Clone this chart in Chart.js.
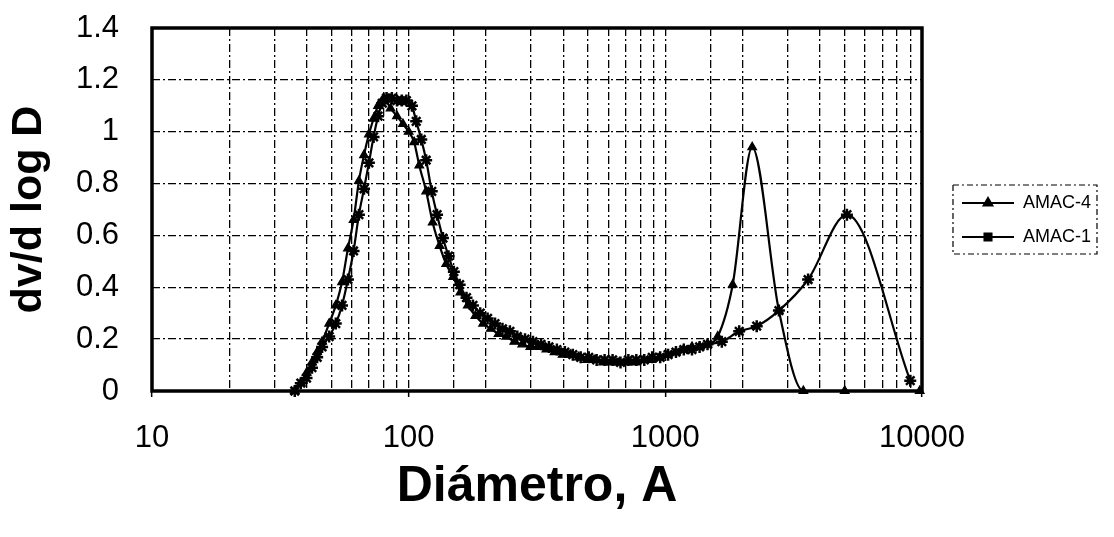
<!DOCTYPE html>
<html>
<head>
<meta charset="utf-8">
<title>dv/d log D vs Diámetro</title>
<script src="https://cdn.jsdelivr.net/npm/chart.js@4.4.1/dist/chart.umd.min.js"></script>
<style>
  html, body { margin: 0; padding: 0; background: #ffffff; }
  #wrap { width: 1114px; height: 537px; }
</style>
</head>
<body>
<div id="wrap"><canvas id="c" width="1114" height="537"></canvas></div>
<script>
// Pore size distribution, dv/d log D against pore diameter (Å)
const seriesNames = ['AMAC-4', 'AMAC-1'];

const diamAmac4 = [36, 38, 40, 42, 44, 46, 49, 52, 55, 58, 61, 64, 67, 70, 73, 76, 80, 85, 90, 95,
  100, 105, 110, 117, 124, 132, 140, 149, 159, 170, 182, 195, 209, 224, 240, 258, 277, 298, 320, 344,
  370, 398, 428, 460, 495, 532, 572, 615, 661, 711, 764, 822, 884, 950, 1020, 1100, 1180, 1270, 1360, 1460,
  1600, 1830, 2180, 2770, 3450, 5000, 9800];
const dvAmac4 = [0.00, 0.03, 0.07, 0.11, 0.15, 0.19, 0.26, 0.33, 0.42, 0.55, 0.66, 0.81, 0.91, 0.99, 1.05, 1.10, 1.13, 1.09, 1.06, 1.03,
  1.00, 0.96, 0.87, 0.77, 0.65, 0.56, 0.49, 0.44, 0.38, 0.33, 0.29, 0.26, 0.24, 0.22, 0.21, 0.19, 0.18, 0.17, 0.17, 0.16,
  0.15, 0.14, 0.14, 0.13, 0.12, 0.12, 0.11, 0.11, 0.11, 0.11, 0.11, 0.12, 0.12, 0.13, 0.14, 0.15, 0.16, 0.17, 0.17, 0.18,
  0.21, 0.41, 0.94, 0.31, 0.00, 0.00, 0.00];

const diamAmac1 = [36, 38, 40, 42, 44, 46, 49, 52, 55, 58, 61, 64, 67, 70, 73, 76, 79, 82, 86, 90,
  94, 98, 103, 107, 112, 117, 123, 129, 136, 143, 150, 158, 168, 178, 190, 203, 217, 232, 248, 265,
  284, 305, 328, 352, 378, 406, 436, 468, 503, 540, 580, 623, 669, 718, 771, 828, 889, 955, 1025, 1100,
  1180, 1270, 1360, 1460, 1660, 1940, 2270, 2770, 3600, 5100, 9000];
const dvAmac1 = [0.00, 0.03, 0.05, 0.09, 0.13, 0.17, 0.21, 0.26, 0.33, 0.43, 0.54, 0.68, 0.78, 0.88, 0.98, 1.06, 1.11, 1.13, 1.13, 1.12,
  1.12, 1.12, 1.10, 1.04, 0.97, 0.89, 0.77, 0.68, 0.59, 0.52, 0.46, 0.41, 0.36, 0.33, 0.30, 0.28, 0.26, 0.24, 0.23, 0.21,
  0.20, 0.19, 0.18, 0.17, 0.16, 0.15, 0.14, 0.13, 0.13, 0.12, 0.12, 0.12, 0.11, 0.12, 0.12, 0.12, 0.13, 0.13, 0.14, 0.15,
  0.16, 0.16, 0.17, 0.18, 0.19, 0.23, 0.25, 0.31, 0.43, 0.68, 0.04];

const xTickLabels = [10, 100, 1000, 10000];
const yTickLabels = [0, 0.2, 0.4, 0.6, 0.8, 1, 1.2, 1.4];

const INK = '#000000';
const CLEAR = 'rgba(0,0,0,0)';
const FONT = "'Liberation Sans', Arial, Helvetica, sans-serif";

function toPoints(xs, ys) { return xs.map((x, i) => ({ x: x, y: ys[i] })); }
function isDecade(v) {
  const r = Math.round(v);
  return Math.abs(v - r) < 1e-6 && xTickLabels.includes(r);
}

// Legend symbol: a short line with the series marker in its middle
function legendSymbol(style) {
  const c = document.createElement('canvas');
  c.width = 52; c.height = 14;
  const g = c.getContext('2d');
  g.strokeStyle = INK; g.fillStyle = INK; g.lineWidth = 2;
  g.beginPath(); g.moveTo(0, 7); g.lineTo(52, 7); g.stroke();
  if (Chart.helpers && Chart.helpers.drawPoint) {
    Chart.helpers.drawPoint(g, { pointStyle: style, radius: 5, borderWidth: 1, rotation: 0 }, 26, 7);
  }
  return c;
}
const legendMarkers = { 'AMAC-4': 'triangle', 'AMAC-1': 'rect' };

// Solid frame round the plot area
const framePlugin = {
  id: 'frame',
  afterDatasetsDraw(chart) {
    const a = chart.chartArea, ctx = chart.ctx;
    ctx.save();
    ctx.setLineDash([]);
    ctx.lineWidth = 3.5;
    ctx.strokeStyle = INK;
    ctx.strokeRect(a.left, a.top, a.right - a.left, a.bottom - a.top);
    ctx.restore();
  }
};

// Dashed outline around the legend entries
const legendBoxPlugin = {
  id: 'legendBox',
  afterDraw(chart) {
    const hb = chart.legend && chart.legend.legendHitBoxes;
    if (!hb || !hb.length) return;
    const first = hb[0], last = hb[hb.length - 1];
    const left = Math.min(...hb.map(h => h.left)) - 9;
    const right = Math.max(...hb.map(h => h.left + h.width)) + 6;
    const top = first.top - 9;
    const bottom = last.top + last.height + 8;
    const ctx = chart.ctx;
    ctx.save();
    ctx.setLineDash([6, 3, 2, 3]);
    ctx.lineWidth = 1.2;
    ctx.strokeStyle = INK;
    ctx.strokeRect(left, top, right - left, bottom - top);
    ctx.restore();
  }
};

const gridDash = [8, 3, 2, 3];

new Chart(document.getElementById('c'), {
  type: 'line',
  data: {
    datasets: [
      {
        label: seriesNames[0],
        data: toPoints(diamAmac4, dvAmac4),
        borderColor: INK, backgroundColor: INK,
        borderWidth: 2.2,
        pointStyle: 'triangle', pointRadius: 5, pointBorderWidth: 1.2,
        pointBackgroundColor: INK, pointBorderColor: INK,
        cubicInterpolationMode: 'monotone',
        clip: false
      },
      {
        label: seriesNames[1],
        data: toPoints(diamAmac1, dvAmac1),
        borderColor: INK, backgroundColor: INK,
        borderWidth: 2.2,
        pointStyle: 'star', pointRadius: 6, pointBorderWidth: 2.5,
        pointBackgroundColor: INK, pointBorderColor: INK,
        cubicInterpolationMode: 'monotone',
        clip: false
      }
    ]
  },
  options: {
    responsive: false,
    animation: false,
    devicePixelRatio: 1,
    layout: { padding: { left: 3, top: 28, right: 13, bottom: 20 } },
    plugins: {
      tooltip: { enabled: false },
      legend: {
        position: 'right',
        fullSize: false,
        align: 'center',
        title: { display: true, text: ' ', padding: 0, font: { family: FONT, size: 17.5 } },
        labels: {
          usePointStyle: true,
          pointStyleWidth: 52,
          padding: 16,
          color: INK,
          font: { family: FONT, size: 18 },
          generateLabels(chart) {
            const items = Chart.defaults.plugins.legend.labels.generateLabels(chart);
            items.forEach(it => { it.pointStyle = legendSymbol(legendMarkers[it.text]); });
            return items;
          }
        }
      }
    },
    scales: {
      x: {
        type: 'logarithmic',
        min: 10, max: 10000,
        grid: {
          color: INK, lineWidth: 1.3, borderDash: gridDash,
          drawTicks: true, tickLength: 6, tickWidth: 1.5,
          tickColor: (ctx) => (ctx.tick && isDecade(ctx.tick.value)) ? INK : CLEAR
        },
        border: { display: false, dash: gridDash },
        ticks: {
          autoSkip: false, maxRotation: 0, padding: 23, color: INK,
          font: { family: FONT, size: 31 },
          callback: (v) => isDecade(v) ? String(Math.round(v)) : ''
        },
        title: { display: true, text: 'Diámetro, A', color: INK, padding: 0, font: { family: FONT, size: 50, weight: 'bold' } },
        afterFit(s) { s.height = 537 - 391 - 20; }
      },
      y: {
        min: 0, max: 1.4,
        grid: {
          color: INK, lineWidth: 1.3, borderDash: gridDash,
          drawTicks: true, tickLength: 33, tickColor: CLEAR
        },
        border: { display: false, dash: gridDash },
        ticks: {
          stepSize: 0.2, padding: 0, color: INK,
          font: { family: FONT, size: 31 },
          callback: (v) => {
            const r = Math.round(v * 10) / 10;
            return yTickLabels.includes(r) ? String(r) : '';
          }
        },
        title: { display: true, text: 'dv/d log D', color: INK, padding: 0, font: { family: FONT, size: 43, weight: 'bold' } },
        afterFit(s) { s.width = 152 - 3; }
      },
      gap: {
        type: 'linear',
        position: 'right',
        min: 0, max: 1,
        grid: { display: false, drawOnChartArea: false },
        border: { display: false },
        ticks: { display: false },
        afterFit(s) { s.width = 24; }
      }
    }
  },
  plugins: [framePlugin, legendBoxPlugin]
});
</script>
</body>
</html>
